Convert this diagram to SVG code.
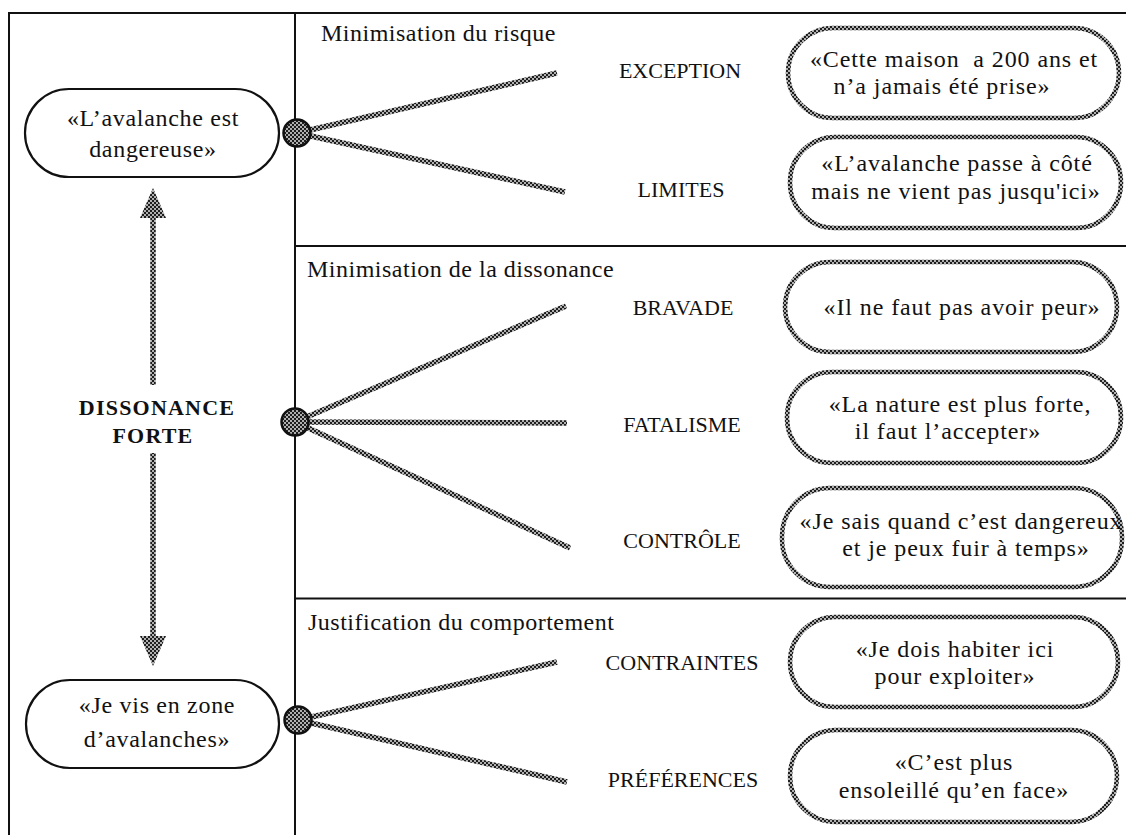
<svg xmlns="http://www.w3.org/2000/svg" width="1128" height="835" viewBox="0 0 1128 835">
<style>
  .frame { stroke: #111; stroke-width: 2; fill: none; }
  .pill { fill: #fff; stroke: #111; stroke-width: 2.2; }
  .hpill { fill: #fff; stroke: url(#hatch); stroke-width: 4.5; }
  .link { stroke: url(#hatch); stroke-width: 5.5; fill: none; }
  .hub { fill: url(#hatch); stroke: #111; stroke-width: 2.5; }
  .title { font-family: "Liberation Serif", "Times New Roman", serif; font-size: 24px; letter-spacing: 0.5px; fill: #111; }
  .cap { font-family: "Liberation Serif", "Times New Roman", serif; font-size: 22px; fill: #111; text-anchor: middle; }
  .q { font-family: "Liberation Serif", "Times New Roman", serif; font-size: 24px; letter-spacing: 0.9px; fill: #111; text-anchor: middle; white-space: pre; }
  .ql { font-family: "Liberation Serif", "Times New Roman", serif; font-size: 24px; letter-spacing: 0.7px; fill: #111; text-anchor: middle; }
  .bold { font-family: "Liberation Serif", "Times New Roman", serif; font-size: 22px; font-weight: bold; letter-spacing: 1.2px; fill: #111; text-anchor: middle; }
</style>
<defs>
  <pattern id="hatch" width="4" height="4" patternUnits="userSpaceOnUse">
    <rect width="4" height="4" fill="#b0b0b0"/>
    <rect width="2" height="2" fill="#1e1e1e"/>
    <rect x="2" y="2" width="2" height="2" fill="#1e1e1e"/>
  </pattern>
</defs>
<rect width="1128" height="835" fill="#fff"/>

<g id="frame">
  <line class="frame" x1="9" y1="13" x2="1126" y2="13" stroke-width="2.5"/>
  <line class="frame" x1="9" y1="12" x2="9" y2="835"/>
  <line class="frame" x1="295" y1="13" x2="295" y2="835"/>
  <line class="frame" x1="295" y1="246" x2="1126" y2="246"/>
  <line class="frame" x1="295" y1="598.5" x2="1126" y2="598.5"/>
</g>

<g id="section-titles">
  <text class="title" x="321" y="41">Minimisation du risque</text>
  <text class="title" x="307" y="277">Minimisation de la dissonance</text>
  <text class="title" x="308" y="630">Justification du comportement</text>
</g>

<g id="connectors">
  <line class="link" x1="297" y1="133" x2="557" y2="73"/>
  <line class="link" x1="297" y1="133" x2="565" y2="192"/>
  <line class="link" x1="295" y1="422" x2="566" y2="306"/>
  <line class="link" x1="295" y1="422" x2="567" y2="423"/>
  <line class="link" x1="295" y1="422" x2="570" y2="548"/>
  <line class="link" x1="298" y1="720" x2="557" y2="662"/>
  <line class="link" x1="298" y1="720" x2="567" y2="782"/>
  <g id="dissonance-arrow">
    <line class="link" stroke-width="3.5" x1="153" y1="216" x2="153" y2="385"/>
    <line class="link" stroke-width="3.5" x1="153" y1="453" x2="153" y2="638"/>
    <polygon points="153,188 140,218 166,218" fill="url(#hatch)"/>
    <polygon points="153,666 140,636 166,636" fill="url(#hatch)"/>
  </g>
</g>

<g id="node-danger">
  <rect class="pill" x="25" y="89" width="254" height="88" rx="44"/>
  <text class="ql" x="153" y="125.5">«L’avalanche est</text>
  <text class="ql" x="153" y="157">dangereuse»</text>
</g>

<g id="node-zone">
  <rect class="pill" x="26" y="680" width="253" height="88" rx="44"/>
  <text class="ql" x="157" y="713">«Je vis en zone</text>
  <text class="ql" x="157" y="747">d’avalanches»</text>
</g>

<g id="label-dissonance">
  <text class="bold" x="157" y="415">DISSONANCE</text>
  <text class="bold" x="153" y="443">FORTE</text>
</g>

<g id="hub-risque"><circle class="hub" cx="297" cy="133" r="13.5"/></g>
<g id="hub-dissonance"><circle class="hub" cx="295" cy="422" r="13.5"/></g>
<g id="hub-comportement"><circle class="hub" cx="298" cy="720" r="13.5"/></g>

<g id="labels">
  <text class="cap" x="680" y="78">EXCEPTION</text>
  <text class="cap" x="681" y="197">LIMITES</text>
  <text class="cap" x="683" y="315">BRAVADE</text>
  <text class="cap" x="682" y="432">FATALISME</text>
  <text class="cap" x="682" y="548">CONTRÔLE</text>
  <text class="cap" x="682" y="670">CONTRAINTES</text>
  <text class="cap" x="683" y="787">PRÉFÉRENCES</text>
</g>

<g id="node-exception">
  <rect class="hpill" x="788" y="28" width="331" height="90" rx="45"/>
  <text class="q" x="954" y="67" xml:space="preserve">«Cette maison  a 200 ans et</text>
  <text class="q" x="942" y="94">n’a jamais été prise»</text>
</g>

<g id="node-limites">
  <rect class="hpill" x="790" y="137" width="331" height="91" rx="45"/>
  <text class="q" x="957" y="171">«L’avalanche passe à côté</text>
  <text class="q" x="956" y="199">mais ne vient pas jusqu'ici»</text>
</g>

<g id="node-bravade">
  <rect class="hpill" x="785" y="262" width="332" height="90" rx="45"/>
  <text class="q" x="962" y="315">«Il ne faut pas avoir peur»</text>
</g>

<g id="node-fatalisme">
  <rect class="hpill" x="787" y="372" width="334" height="91" rx="45"/>
  <text class="q" x="960" y="412">«La nature est plus forte,</text>
  <text class="q" x="948" y="439">il faut l’accepter»</text>
</g>

<g id="node-controle">
  <rect class="hpill" x="782" y="488" width="340" height="99" rx="48"/>
  <text class="q" x="961" y="529">«Je sais quand c’est dangereux</text>
  <text class="q" x="966" y="556">et je peux fuir à temps»</text>
</g>

<g id="node-contraintes">
  <rect class="hpill" x="790" y="617" width="328" height="90" rx="45"/>
  <text class="q" x="955" y="657">«Je dois habiter ici</text>
  <text class="q" x="955" y="684">pour exploiter»</text>
</g>

<g id="node-preferences">
  <rect class="hpill" x="790" y="730" width="327" height="92" rx="46"/>
  <text class="q" x="954" y="770">«C’est plus</text>
  <text class="q" x="954" y="798">ensoleillé qu’en face»</text>
</g>
</svg>
